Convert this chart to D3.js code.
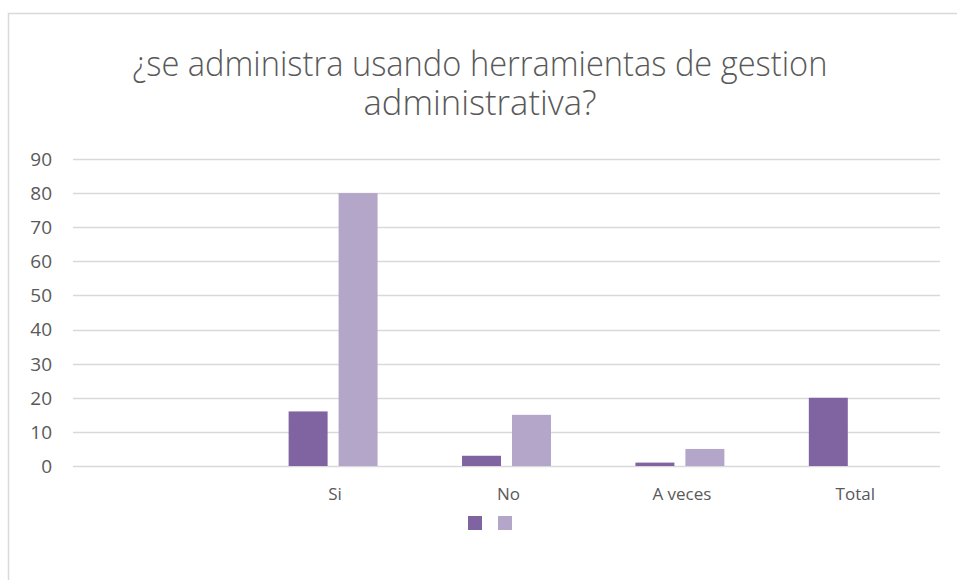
<!DOCTYPE html>
<meta charset="utf-8">
<head>
    <title>herramientas de gestion</title>
    <script src="https://d3js.org/d3.v7.min.js"></script>
</head>
<style>
    body { margin: 0; background: #fff; }
    text { font-family: "Open Sans", "Noto Sans", sans-serif; fill: #595959; }
    .grid line { stroke: #d9d9d9; stroke-width: 1.3px; }
</style>
<body>
<script>
    // datos
    var categorias = ["", "Si", "No", "A veces", "Total"];
    var serie1 = [0, 16, 3, 1, 20];
    var serie2 = [0, 80, 15, 5, 0];
    var ticksY = [0, 10, 20, 30, 40, 50, 60, 70, 80, 90];
    var colores = ["#8064a2", "#b3a6c9"];
    var tituloLineas = ["¿se administra usando herramientas de gestion", "administrativa?"];

    var width = 957, height = 580;
    var margin = {left: 73, right: 17, top: 159, bottom: 114};

    var svg = d3.select("body").append("svg")
        .attr("width", width)
        .attr("height", height);

    // marco del grafico
    svg.append("rect")
        .attr("x", 8.5).attr("y", 13.5)
        .attr("width", 970).attr("height", 600)
        .attr("fill", "#fff")
        .attr("stroke", "#d9d9d9")
        .attr("stroke-width", 1.5);

    var x = d3.scaleBand()
        .domain(categorias.map(function (d, i) { return i; }))
        .range([margin.left, width - margin.right])
        .padding(0);

    var bw = x.bandwidth();
    var x1 = d3.scaleBand()
        .domain([0, 1])
        .range([bw * 0.2435, bw * 0.7565])
        .paddingInner(0.22);

    var y = d3.scaleLinear()
        .domain([0, 90])
        .range([height - margin.bottom, margin.top]);

    var grid = svg.append("g").attr("class", "grid");
    grid.selectAll("line")
        .data(ticksY)
        .enter().append("line")
        .attr("x1", margin.left)
        .attr("x2", width - margin.right)
        .attr("y1", function (d) { return Math.round(y(d)) + 0.5; })
        .attr("y2", function (d) { return Math.round(y(d)) + 0.5; });

    svg.append("g").selectAll("text")
        .data(ticksY)
        .enter().append("text")
        .attr("x", 52)
        .attr("y", function (d) { return y(d); })
        .attr("dy", "0.36em")
        .attr("text-anchor", "end")
        .style("font-size", "19px")
        .text(function (d) { return d; });

    var series = [serie1, serie2];
    series.forEach(function (s, k) {
        svg.append("g").selectAll("rect")
            .data(s)
            .enter().append("rect")
            .attr("x", function (d, i) { return x(i) + x1(k); })
            .attr("width", x1.bandwidth())
            .attr("y", function (d) { return y(d); })
            .attr("height", function (d) { return y(0) - y(d); })
            .attr("fill", colores[k]);
    });

    svg.append("g").selectAll("text")
        .data(categorias)
        .enter().append("text")
        .attr("x", function (d, i) { return x(i) + bw / 2 + 2; })
        .attr("y", y(0) + 34)
        .attr("text-anchor", "middle")
        .style("font-size", "17px")
        .text(function (d) { return d; });

    // titulo: letra estrecha como en el original
    var anchos = [695, 233];
    svg.append("g").selectAll("text")
        .data(tituloLineas)
        .enter().append("text")
        .attr("x", 480)
        .attr("y", function (d, i) { return 76 + i * 39; })
        .attr("text-anchor", "middle")
        .attr("textLength", function (d, i) { return anchos[i]; })
        .attr("lengthAdjust", "spacingAndGlyphs")
        .style("font-size", "34px")
        .style("font-weight", 300)
        .text(function (d) { return d; });

    // leyenda sin texto
    svg.append("g").selectAll("rect")
        .data(colores)
        .enter().append("rect")
        .attr("x", function (d, i) { return 468 + i * 30; })
        .attr("y", 516)
        .attr("width", 14)
        .attr("height", 14)
        .attr("fill", function (d) { return d; });
</script>
</body>
</html>
